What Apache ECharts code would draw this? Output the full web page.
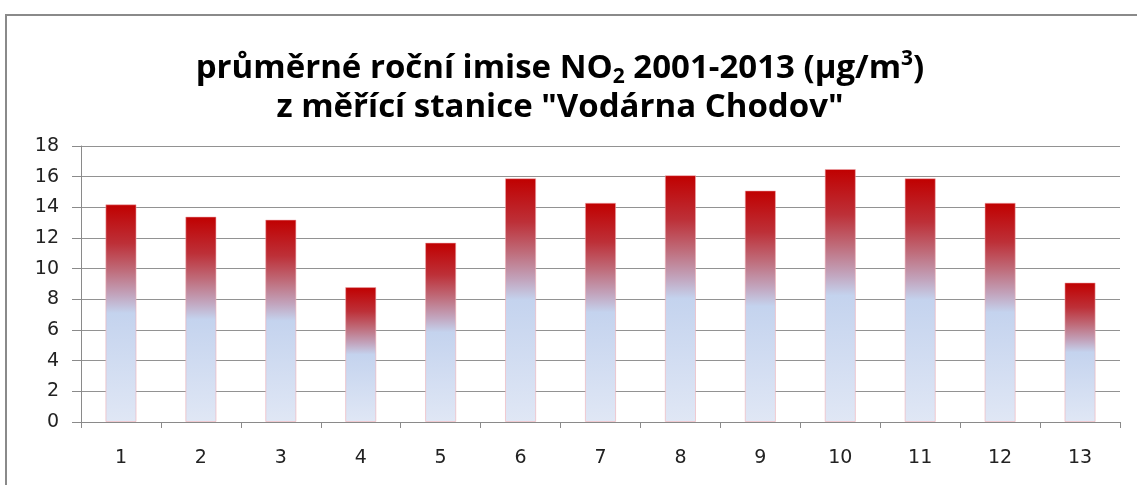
<!DOCTYPE html>
<html>
<head>
<meta charset="utf-8">
<script src="https://cdn.jsdelivr.net/npm/echarts@6/dist/echarts.min.js"></script>
<style>
  html, body { margin: 0; padding: 0; background: #fff; }
  #frame { position: absolute; left: 5px; top: 14px; width: 1140px; height: 480px;
           border-left: 2px solid #8a8a8a; border-top: 2px solid #8a8a8a; }
  #chart { position: absolute; left: 0; top: 0; width: 1137px; height: 485px; }
</style>
</head>
<body>
<div id="frame"></div>
<div id="chart"></div>
<script>
// Annual mean NO2 concentration (µg/m³), years 2001–2013 numbered 1–13
const categories = ['1', '2', '3', '4', '5', '6', '7', '8', '9', '10', '11', '12', '13'];
const no2Values = [14.2, 13.4, 13.2, 8.8, 11.7, 15.9, 14.3, 16.1, 15.1, 16.5, 15.9, 14.3, 9.1];
const yTicks = { min: 0, max: 18, interval: 2 };

const chart = echarts.init(document.getElementById('chart'), null, { renderer: 'canvas' });

// red at the top of each bar fading into pale blue towards the base
const barFill = new echarts.graphic.LinearGradient(0, 0, 0, 1, [
  { offset: 0, color: '#c00000' },
  { offset: 0.18, color: '#bd3038' },
  { offset: 0.3, color: '#bf6a78' },
  { offset: 0.42, color: '#c2a6bf' },
  { offset: 0.5, color: '#c4d3ee' },
  { offset: 1, color: '#e0e7f5' }
]);

const labelFont = '"DejaVu Sans", sans-serif';
const titleFont = '"Open Sans", sans-serif';

chart.setOption({
  animation: false,
  title: {
    left: 555,
    textAlign: 'center',
    top: 44,
    text: '{t|průměrné roční imise NO}{sub|2}{t| 2001-2013 (µg/m}{sup|3}{t|)}\n{t|z měřící stanice "Vodárna Chodov"}',
    textStyle: {
      rich: {
        t: { fontFamily: titleFont, fontWeight: 'bold', fontSize: 33, color: '#000', lineHeight: 39, verticalAlign: 'middle' },
        sub: { fontFamily: titleFont, fontWeight: 'bold', fontSize: 21, color: '#000', lineHeight: 18, verticalAlign: 'bottom' },
        sup: { fontFamily: titleFont, fontWeight: 'bold', fontSize: 21, color: '#000', lineHeight: 22, verticalAlign: 'top' }
      }
    }
  },
  grid: { left: 81, right: 17, top: 146, bottom: 63 },
  xAxis: {
    type: 'category',
    data: categories,
    axisLine: { lineStyle: { color: '#8a8a8a', width: 1 } },
    axisTick: { show: true, length: 6, lineStyle: { color: '#8a8a8a' } },
    axisLabel: { margin: 27, fontFamily: labelFont, fontSize: 19, color: '#222' }
  },
  yAxis: {
    type: 'value',
    min: yTicks.min,
    max: yTicks.max,
    interval: yTicks.interval,
    axisLine: { show: true, lineStyle: { color: '#8a8a8a', width: 1 } },
    axisTick: { show: true, length: 9, lineStyle: { color: '#8a8a8a' } },
    axisLabel: { margin: 22, fontFamily: labelFont, fontSize: 19, color: '#222' },
    splitLine: { lineStyle: { color: '#929292', width: 1.2 } }
  },
  series: [{
    type: 'bar',
    data: no2Values,
    barWidth: '39%',
    itemStyle: {
      color: barFill,
      borderColor: 'rgba(240, 170, 175, 0.55)',
      borderWidth: 1
    }
  }]
});
</script>
</body>
</html>
